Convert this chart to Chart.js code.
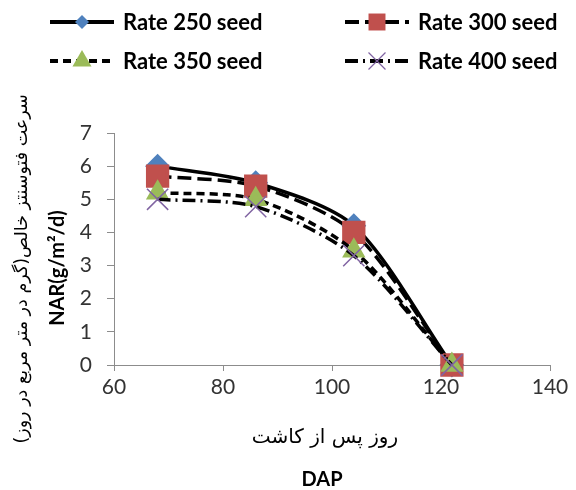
<!DOCTYPE html>
<html>
<head>
<meta charset="utf-8">
<script src="https://cdn.jsdelivr.net/npm/chart.js@4/dist/chart.umd.min.js"></script>
<style>
  html, body { margin: 0; padding: 0; background: #fff; }
</style>
</head>
<body>
<canvas id="myChart" width="576" height="490"></canvas>
<script>
// days after planting (DAP)
const days = [68, 86, 104, 122];

// NAR (g/m2/d) per seed rate
const rate250 = [6.0, 5.5, 4.2, 0];
const rate300 = [5.7, 5.4, 4.0, 0];
const rate350 = [5.2, 5.0, 3.45, 0];
const rate400 = [5.0, 4.78, 3.3, 0];

const seriesNames = ['Rate 250 seed', 'Rate 300 seed', 'Rate 350 seed', 'Rate 400 seed'];
const xTicks = [60, 80, 100, 120, 140];
const yTicks = [0, 1, 2, 3, 4, 5, 6, 7];

const yTitleFa = 'سرعت فتوسنتز خالص(گرم در متر مربع در روز)';
const yTitleEn = 'NAR(g/m²/d)';
const xTitleFa = 'روز پس از کاشت';
const xTitleEn = 'DAP';

const toPoints = vals => vals.map((v, i) => ({ x: days[i], y: v }));

// little marker painter for the legend
function drawMarker(ctx, style, x, y, r, fill, stroke) {
  ctx.save();
  ctx.fillStyle = fill;
  ctx.strokeStyle = stroke || fill;
  ctx.beginPath();
  if (style === 'rectRot') {
    ctx.moveTo(x, y - r); ctx.lineTo(x + r, y); ctx.lineTo(x, y + r); ctx.lineTo(x - r, y);
    ctx.closePath(); ctx.fill();
  } else if (style === 'rect') {
    const s = r * Math.SQRT1_2;
    ctx.rect(x - s, y - s, 2 * s, 2 * s); ctx.fill();
  } else if (style === 'triangle') {
    ctx.moveTo(x, y - r);
    ctx.lineTo(x + r * Math.sin(2 * Math.PI / 3), y + r / 2);
    ctx.lineTo(x - r * Math.sin(2 * Math.PI / 3), y + r / 2);
    ctx.closePath(); ctx.fill();
  } else if (style === 'crossRot') {
    const d = r * Math.SQRT1_2;
    ctx.lineWidth = 1.2;
    ctx.moveTo(x - d, y - d); ctx.lineTo(x + d, y + d);
    ctx.moveTo(x + d, y - d); ctx.lineTo(x - d, y + d);
    ctx.stroke();
  }
  ctx.restore();
}

const legendRadius = [7, 12, 11, 12];

const seedLegend = {
  id: 'seedLegend',
  afterDraw(chart) {
    const ctx = chart.ctx;
    ctx.save();
    chart.data.datasets.forEach((ds, i) => {
      const x0 = [50, 345][i % 2];
      const y = [22, 61][Math.floor(i / 2)];
      const len = 64;
      ctx.strokeStyle = '#000';
      ctx.lineWidth = 4;
      ctx.setLineDash(ds.borderDash || []);
      ctx.beginPath();
      ctx.moveTo(x0, y);
      ctx.lineTo(x0 + len, y);
      ctx.stroke();
      ctx.setLineDash([]);
      drawMarker(ctx, ds.pointStyle, x0 + len / 2, y, legendRadius[i], ds.pointBackgroundColor, ds.pointBorderColor);
      ctx.fillStyle = '#000';
      ctx.font = 'bold 22px Lato';
      ctx.textBaseline = 'middle';
      ctx.textAlign = 'left';
      ctx.fillText(ds.label, x0 + len + 9, y + 1);
    });
    ctx.restore();
  }
};

const axisTitles = {
  id: 'axisTitles',
  afterDraw(chart) {
    const ctx = chart.ctx;
    ctx.save();
    ctx.fillStyle = '#000';
    ctx.textAlign = 'center';
    ctx.textBaseline = 'middle';
    // y titles, rotated
    ctx.save();
    ctx.translate(22, 269);
    ctx.rotate(-Math.PI / 2);
    ctx.direction = 'rtl';
    ctx.font = '17.5px "DejaVu Sans"';
    ctx.fillText(yTitleFa, 0, 0);
    ctx.restore();
    ctx.save();
    ctx.translate(58, 268);
    ctx.rotate(-Math.PI / 2);
    ctx.font = 'bold 20px Lato';
    ctx.fillText(yTitleEn, 0, 0);
    ctx.restore();
    // x titles
    ctx.direction = 'rtl';
    ctx.font = '20px "DejaVu Sans"';
    ctx.fillText(xTitleFa, 325, 438);
    ctx.direction = 'ltr';
    ctx.font = 'bold 20px Lato';
    ctx.fillText(xTitleEn, 322, 480);
    ctx.restore();
  }
};

const data = {
  datasets: [
    {
      label: seriesNames[0], data: toPoints(rate250), order: 4,
      borderColor: '#000', borderWidth: 3.5, borderDash: [],
      pointStyle: 'rectRot', pointRadius: 10,
      pointBackgroundColor: '#4F81BD', pointBorderColor: '#4F81BD'
    },
    {
      label: seriesNames[1], data: toPoints(rate300), order: 3,
      borderColor: '#000', borderWidth: 3.5, borderDash: [14, 6],
      pointStyle: 'rect', pointRadius: 14,
      pointBackgroundColor: '#C0504D', pointBorderColor: '#C0504D'
    },
    {
      label: seriesNames[2], data: toPoints(rate350), order: 2,
      borderColor: '#000', borderWidth: 3.5, borderDash: [8, 5],
      pointStyle: 'triangle', pointRadius: 10,
      pointBackgroundColor: '#9BBB59', pointBorderColor: '#9BBB59'
    },
    {
      label: seriesNames[3], data: toPoints(rate400), order: 1,
      borderColor: '#000', borderWidth: 3.5, borderDash: [13, 5, 2, 5],
      pointStyle: 'crossRot', pointRadius: 15, pointBorderWidth: 1.5,
      pointBackgroundColor: '#8064A2', pointBorderColor: '#8064A2'
    }
  ]
};

const tickFont = { family: 'Lato', size: 21 };

const config = {
  type: 'line',
  data: data,
  options: {
    responsive: false,
    animation: false,
    layout: { padding: { top: 133, right: 26, left: 0, bottom: 0 } },
    elements: { line: { tension: 0.28, fill: false } },
    datasets: { line: { clip: false } },
    plugins: { legend: { display: false }, tooltip: { enabled: false } },
    scales: {
      x: {
        type: 'linear', min: 60, max: 140,
        afterBuildTicks: s => { s.ticks = xTicks.map(v => ({ value: v })); },
        afterFit: s => { s.height = 125; },
        grid: { drawOnChartArea: false, drawTicks: true, tickLength: 6, color: '#8c8c8c' },
        border: { color: '#8c8c8c', width: 1 },
        ticks: { font: tickFont, color: '#333', padding: 4, maxRotation: 0 }
      },
      y: {
        min: 0, max: 7,
        afterBuildTicks: s => { s.ticks = yTicks.map(v => ({ value: v })); },
        afterFit: s => { s.width = 114; },
        grid: { drawOnChartArea: false, drawTicks: true, tickLength: 7, color: '#8c8c8c' },
        border: { color: '#8c8c8c', width: 1 },
        ticks: { font: tickFont, color: '#333', padding: 15 }
      }
    }
  },
  plugins: [seedLegend, axisTitles]
};

const myChart = new Chart(document.getElementById('myChart'), config);
</script>
</body>
</html>
